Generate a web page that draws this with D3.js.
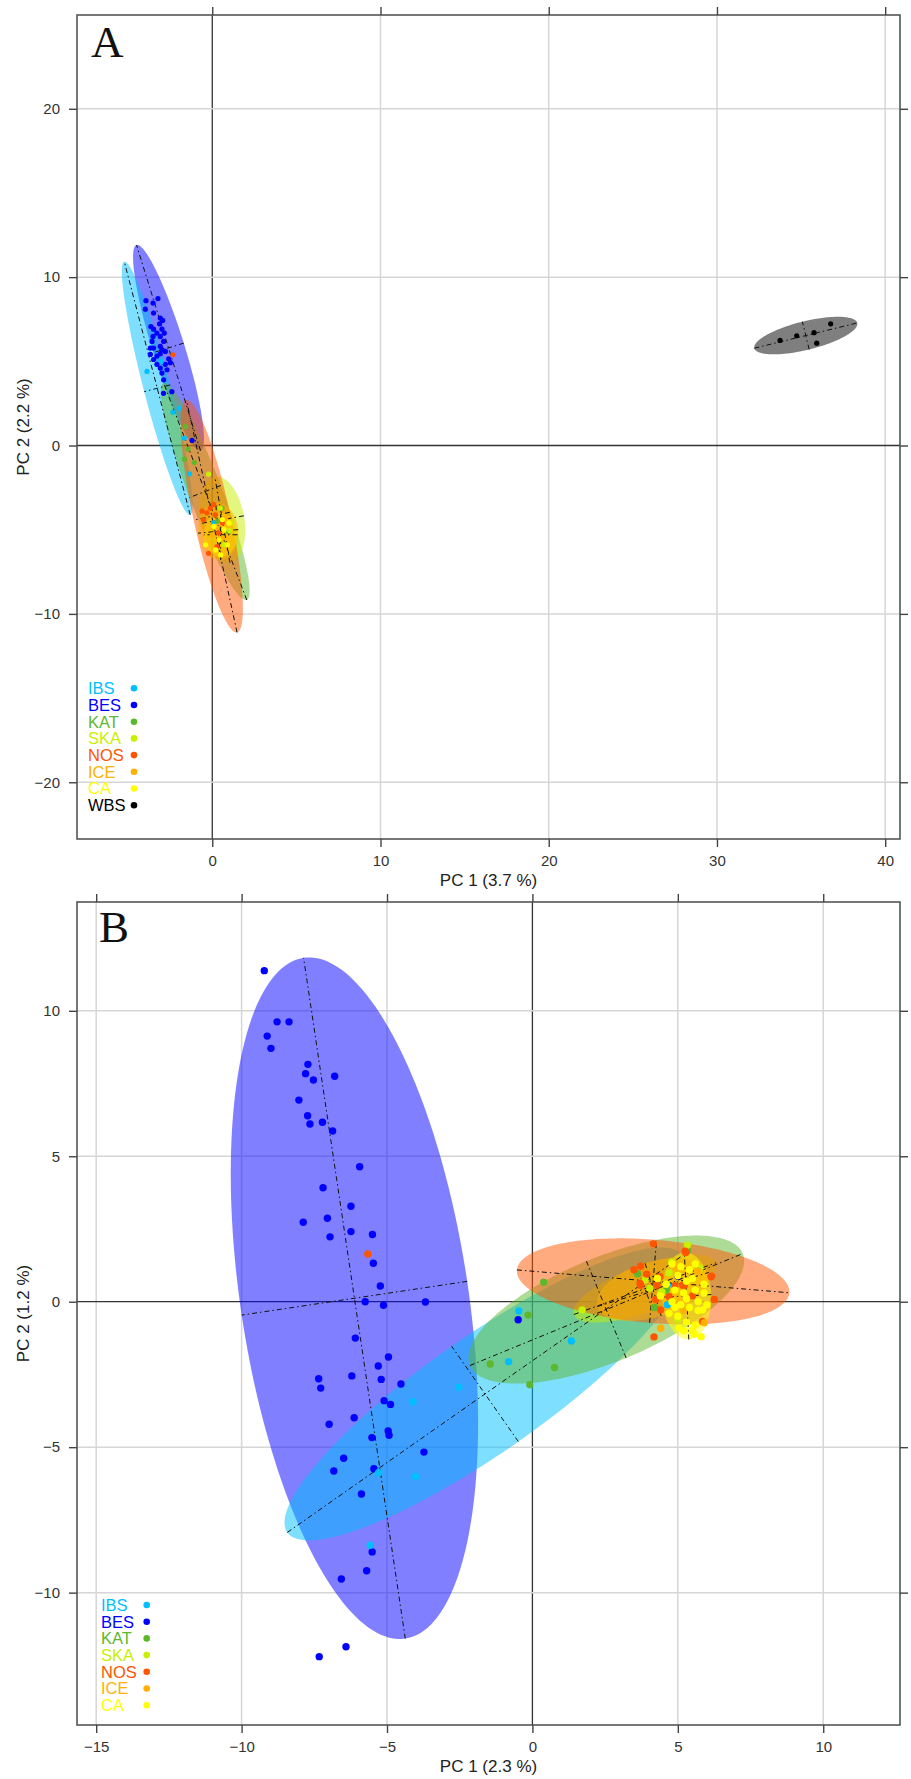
<!DOCTYPE html>
<html><head><meta charset="utf-8">
<script src="https://cdn.jsdelivr.net/npm/d3@7"></script>
<style>body{margin:0;background:#fff}svg{display:block}</style>
</head><body>
<svg id="c" width="911" height="1779"></svg>
<script>
// ---------- shared categories ----------
const groups = ["IBS","BES","KAT","SKA","NOS","ICE","CA","WBS"];
const groupColors = ["#00BFFF","#0000FF","#5DB82E","#C8F000","#FF5500","#FFB000","#FFFF00","#000000"];
const drawOrder = ["BES","IBS","KAT","SKA","NOS","CA","ICE","WBS"];

// ---------- Panel A ----------
const xTicksA = [0,10,20,30,40];
const yTicksA = [-20,-10,0,10,20];
const legendA = ["IBS","BES","KAT","SKA","NOS","ICE","CA","WBS"];
// ellipse: group, centre x, centre y, semi-major, semi-minor, angle (deg)
const ellipsesA = [
  ["BES",-2.6,5.8,6.4,0.95,107.3],
  ["IBS",-3.27,3.4,7.77,0.8,104.6],
  ["KAT",-0.42,-2.73,6.9,1.0,111],
  ["NOS",-0.03,-4.2,7.06,1.1,102.3],
  ["SKA",0.6,-4.4,2.6,1.3,100],
  ["ICE",0.35,-5.1,1.7,1.2,95],
  ["CA",0.5,-5.3,1.3,1.0,90],
  ["WBS",35.28,6.53,3.15,0.85,13.8]
];
const aIBS = [[-3.88,4.4],[-3.03,5.0],[-1.96,2.22],[-2.34,1.98],[-1.66,0.44],[-1.35,-1.68],[0.08,-4.6]];
const aBES = [[-3.23,8.73],[-3.94,8.60],[-3.52,8.46],[-3.98,8.10],[-3.49,7.87],[-3.09,7.57],[-2.95,7.43],[-3.13,7.23],[-3.65,7.07],[-3.49,6.91],[-2.99,6.91],[-2.85,6.68],[-3.29,6.68],[-3.52,6.48],[-3.09,6.48],[-3.58,6.18],[-2.89,6.18],[-3.09,5.89],[-3.68,5.79],[-3.49,5.79],[-2.99,5.69],[-2.79,5.59],[-3.09,5.45],[-3.68,5.41],[-3.29,5.31],[-3.49,5.11],[-2.59,5.15],[-2.49,4.92],[-3.29,4.82],[-2.79,4.82],[-3.09,4.60],[-2.69,4.50],[-2.99,4.30],[-2.89,3.90],[-2.9,3.1],[-2.4,3.2],[-1.2,0.3]];
const aKAT = [[-1.6,1.13],[-1.44,-0.21],[-1.66,-0.81],[-1.07,-1.01],[0.57,-3.72],[0.97,-5.1],[0.3,-4.5]];
const aSKA = [[-0.22,-1.7],[0.48,-3.72],[1.03,-5.05],[1.07,-4.61],[0.7,-5.9]];
const aNOS = [[-2.34,5.39],[-0.12,-3.72],[-0.32,-4.0],[0.18,-4.12],[-0.52,-4.41],[0.38,-5.2],[0.28,-6.0],[-0.22,-6.4],[0.08,-3.5],[0.38,-5.6],[-0.6,-3.9],[0.6,-4.6]];
const aICE = [[0.3,-4.9],[0.6,-5.5],[0.0,-5.3],[0.8,-4.3]];
const aCA = [[0.4,-5.6],[0.7,-5.0],[0.2,-6.2],[0.9,-5.9],[-0.4,-5.9],[1.0,-4.6],[0.5,-6.5],[0.1,-4.8],[0.6,-4.4]];
const aWBS = [[33.75,6.24],[34.74,6.52],[35.77,6.70],[36.76,7.23],[35.93,6.08]];

// ---------- Panel B ----------
const xTicksB = [-15,-10,-5,0,5,10];
const yTicksB = [-10,-5,0,5,10];
const legendB = ["IBS","BES","KAT","SKA","NOS","ICE","CA"];
const ellipsesB = [
  ["BES",-6.12,0.12,11.83,3.92,98.5],
  ["IBS",-1.63,-3.17,8.3,2.0,35],
  ["KAT",2.54,-0.27,5.07,1.8,22.3],
  ["NOS",4.15,0.70,4.70,1.43,-4.8],
  ["SKA",3.87,0.45,2.6,0.8,20],
  ["ICE",4.15,0.42,2.0,0.95,17],
  ["CA",5.3,0.2,1.5,0.85,93]
];
const bIBS = [[-4.11,-3.44],[-2.53,-2.94],[-5.29,-5.88],[-4.02,-6.01],[-5.58,-8.37],[-0.47,-0.32],[-0.82,-2.06],[1.34,-1.35],[4.64,0.57],[4.64,-0.1]];
const bBES = [[-9.22,11.38],[-8.78,9.62],[-8.37,9.62],[-9.12,9.13],[-8.99,8.71],[-7.72,8.16],[-7.80,7.84],[-7.53,7.62],[-6.80,7.75],[-8.03,6.93],[-7.73,6.39],[-7.65,6.11],[-7.22,6.17],[-6.87,5.87],[-5.94,4.64],[-7.20,3.92],[-6.24,3.28],[-7.88,2.73],[-7.05,2.87],[-6.24,2.41],[-6.96,2.23],[-5.50,2.31],[-5.47,1.32],[-5.23,0.54],[-5.75,0.0],[-5.12,-0.12],[-3.68,-0.01],[-6.09,-1.25],[-4.95,-1.90],[-5.30,-2.21],[-7.35,-2.65],[-7.28,-2.97],[-6.21,-2.55],[-5.20,-2.67],[-4.52,-2.83],[-5.10,-3.40],[-4.88,-3.53],[-6.99,-4.21],[-6.13,-3.99],[-4.96,-4.44],[-4.93,-4.59],[-5.52,-4.67],[-3.73,-5.17],[-6.49,-5.38],[-6.83,-5.82],[-5.45,-5.74],[-5.88,-6.61],[-5.51,-8.60],[-5.70,-9.25],[-6.57,-9.53],[-6.41,-11.86],[-7.33,-12.2],[-0.49,-0.62],[5.0,0.88]];
const bKAT = [[0.39,0.67],[-0.15,-0.46],[-1.45,-2.14],[0.76,-2.26],[-0.09,-2.85],[3.61,0.96],[5.33,1.75],[4.6,0.4],[4.2,-0.2]];
const bSKA = [[1.71,-0.28],[4.79,1.37],[5.33,1.95],[3.87,0.75],[4.04,0.46],[4.45,0.34],[5.76,1.15],[4.41,0.27],[5.0,-0.6],[4.7,1.0]];
const bNOS = [[-5.66,1.64],[4.16,1.99],[5.27,1.69],[3.49,1.10],[3.72,1.22],[6.14,0.86],[6.25,0.08],[4.18,-1.21],[4.38,0.86],[3.72,0.57],[4.24,0.08],[4.70,0.17],[5.22,0.57],[4.41,-0.28],[5.85,-0.68],[3.93,0.95],[6.16,0.88],[4.27,0.57],[5.17,0.57],[3.70,0.63],[5.25,1.74],[4.9,0.55],[5.5,0.2]];
const bICE = [[4.41,-0.91],[4.99,1.16],[5.68,1.06],[5.91,-0.72],[5.2,-0.3]];
const bCA = [[4.8,1.3],[5.1,1.2],[5.4,1.1],[5.6,1.3],[5.0,0.9],[5.3,0.7],[5.5,0.8],[4.6,0.6],[4.9,0.4],[5.2,0.3],[5.6,0.4],[5.9,0.3],[4.4,0.2],[4.8,0.0],[5.1,-0.1],[5.4,-0.2],[5.7,-0.3],[6.0,-0.1],[4.7,-0.4],[5.0,-0.5],[5.3,-0.7],[5.6,-0.8],[5.2,-1.0],[5.5,-1.0],[5.8,-1.2],[4.9,-0.2],[5.3,0.1],[5.7,0.0],[4.3,0.8],[5.9,0.6],[5.04,-0.9],[5.56,-1.11],[5.85,-0.28]];

const pointsA = [["BES",aBES],["IBS",aIBS],["KAT",aKAT],["SKA",aSKA],["NOS",aNOS],["ICE",aICE],["CA",aCA],["WBS",aWBS]];
const pointsB = [["BES",bBES],["IBS",bIBS],["KAT",bKAT],["SKA",bSKA],["NOS",bNOS],["ICE",bICE],["CA",bCA]];

const color = d3.scaleOrdinal().domain(groups).range(groupColors);
const svg = d3.select("#c");
const fmt = d => d < 0 ? "\u2212" + Math.abs(d) : String(d);

function drawPanel(cfg) {
  const x = d3.scaleLinear().domain(cfg.xDom).range([cfg.left, cfg.right]);
  const y = d3.scaleLinear().domain(cfg.yDom).range([cfg.bottom, cfg.top]);
  const g = svg.append("g");
  // grid
  g.selectAll(null).data(cfg.xTicks).join("line")
    .attr("x1", d => x(d)).attr("x2", d => x(d)).attr("y1", cfg.top).attr("y2", cfg.bottom)
    .attr("stroke", d => d === 0 ? "#333" : "#d6d6d6").attr("stroke-width", d => d === 0 ? 1.3 : 1.5);
  g.selectAll(null).data(cfg.yTicks).join("line")
    .attr("y1", d => y(d)).attr("y2", d => y(d)).attr("x1", cfg.left).attr("x2", cfg.right)
    .attr("stroke", d => d === 0 ? "#333" : "#d6d6d6").attr("stroke-width", d => d === 0 ? 1.3 : 1.5);

  // ellipses
  const ell = cfg.ellipses.slice().sort((a, b) => drawOrder.indexOf(a[0]) - drawOrder.indexOf(b[0]));
  const line = d3.line().x(p => x(p[0])).y(p => y(p[1])).curve(d3.curveLinearClosed);
  const ellPts = e => {
    const [, cx, cy, a, b, ang] = e; const t = ang * Math.PI / 180;
    return d3.range(0, 2 * Math.PI, Math.PI / 90).map(s => [
      cx + a * Math.cos(s) * Math.cos(t) - b * Math.sin(s) * Math.sin(t),
      cy + a * Math.cos(s) * Math.sin(t) + b * Math.sin(s) * Math.cos(t)]);
  };
  g.selectAll(null).data(ell).join("path")
    .attr("d", e => line(ellPts(e)))
    .attr("fill", e => color(e[0])).attr("fill-opacity", 0.5).attr("stroke", "none");
  // axes of ellipses (dot-dash)
  const axesSeg = [];
  ell.forEach(e => {
    const [, cx, cy, a, b, ang] = e; const t = ang * Math.PI / 180;
    axesSeg.push([[cx - a * Math.cos(t), cy - a * Math.sin(t)], [cx + a * Math.cos(t), cy + a * Math.sin(t)]]);
    axesSeg.push([[cx + b * Math.sin(t), cy - b * Math.cos(t)], [cx - b * Math.sin(t), cy + b * Math.cos(t)]]);
  });
  g.selectAll(null).data(axesSeg).join("line")
    .attr("x1", s => x(s[0][0])).attr("y1", s => y(s[0][1]))
    .attr("x2", s => x(s[1][0])).attr("y2", s => y(s[1][1]))
    .attr("stroke", "#111").attr("stroke-width", 1).attr("stroke-dasharray", cfg.dash);

  // points
  cfg.points.forEach(([grp, arr]) => {
    g.selectAll(null).data(arr).join("circle")
      .attr("cx", d => x(d[0])).attr("cy", d => y(d[1])).attr("r", cfg.r)
      .attr("fill", color(grp));
  });

  // frame
  g.append("rect").attr("x", cfg.left).attr("y", cfg.top)
    .attr("width", cfg.right - cfg.left).attr("height", cfg.bottom - cfg.top)
    .attr("fill", "none").attr("stroke", "#555").attr("stroke-width", 1.6);

  const styleAxis = sel => {
    sel.select(".domain").remove();
    sel.selectAll(".tick line").attr("stroke", "#444").attr("stroke-width", 1.4);
    sel.selectAll(".tick text").attr("fill", "#333").style("font-family", "'Liberation Sans', Arial, sans-serif").style("font-size", "15px");
  };
  g.append("g").attr("transform", `translate(0,${cfg.bottom})`)
    .call(d3.axisBottom(x).tickValues(cfg.xTicks).tickSize(8).tickPadding(8.5).tickFormat(fmt)).call(styleAxis);
  g.append("g").attr("transform", `translate(0,${cfg.top})`)
    .call(d3.axisTop(x).tickValues(cfg.xTicks).tickSize(8).tickFormat("")).call(styleAxis);
  g.append("g").attr("transform", `translate(${cfg.left},0)`)
    .call(d3.axisLeft(y).tickValues(cfg.yTicks).tickSize(8).tickPadding(9).tickFormat(fmt)).call(styleAxis);
  g.append("g").attr("transform", `translate(${cfg.right},0)`)
    .call(d3.axisRight(y).tickValues(cfg.yTicks).tickSize(8).tickFormat("")).call(styleAxis);

  // titles
  g.append("text").attr("x", (cfg.left + cfg.right) / 2).attr("y", cfg.bottom + 47)
    .attr("text-anchor", "middle").attr("fill", "#222")
    .style("font-family", "'Liberation Sans', Arial, sans-serif").style("font-size", "17px").text(cfg.xTitle);
  g.append("text").attr("transform", `translate(28.5,${(cfg.top + cfg.bottom) / 2}) rotate(-90)`)
    .attr("text-anchor", "middle").attr("fill", "#222")
    .style("font-family", "'Liberation Sans', Arial, sans-serif").style("font-size", "17px").text(cfg.yTitle);
  g.append("text").attr("x", cfg.letterX).attr("y", cfg.letterY).attr("fill", "#111")
    .style("font-family", "'Liberation Serif', 'Times New Roman', serif").style("font-size", "45px").text(cfg.letter);

  // legend
  const lg = g.append("g");
  cfg.legend.forEach((grp, i) => {
    const yy = cfg.legY + i * 16.7;
    lg.append("text").attr("x", cfg.legX).attr("y", yy + 5.8).attr("fill", color(grp))
      .style("font-family", "'Liberation Sans', Arial, sans-serif").style("font-size", "16.5px").text(grp);
    lg.append("circle").attr("cx", cfg.legDotX).attr("cy", yy).attr("r", 3.3).attr("fill", color(grp));
  });
}

drawPanel({
  xDom: [-8.04, 40.88], yDom: [-23.37, 25.57], left: 77, right: 900, top: 15, bottom: 839,
  xTicks: xTicksA, yTicks: yTicksA, ellipses: ellipsesA, points: pointsA, r: 2.6,
  dash: "5,3,1.5,3", xTitle: "PC 1 (3.7 %)", yTitle: "PC 2 (2.2 %)",
  letter: "A", letterX: 91, letterY: 57, legend: legendA, legX: 88, legDotX: 134, legY: 688.3
});
drawPanel({
  xDom: [-15.66, 12.64], yDom: [-14.55, 13.74], left: 77, right: 900, top: 902, bottom: 1725,
  xTicks: xTicksB, yTicks: yTicksB, ellipses: ellipsesB, points: pointsB, r: 3.7,
  dash: "5,3,1.5,3", xTitle: "PC 1 (2.3 %)", yTitle: "PC 2 (1.2 %)",
  letter: "B", letterX: 99, letterY: 942, legend: legendB, legX: 101, legDotX: 146.7, legY: 1605
});
</script>
</body></html>
